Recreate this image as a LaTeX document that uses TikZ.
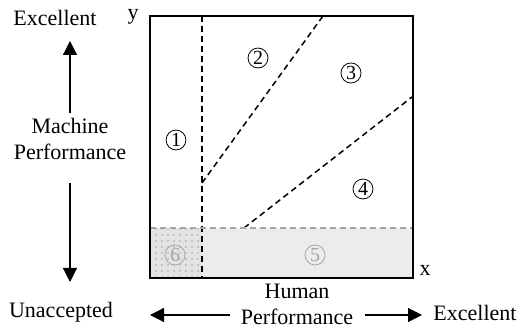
\documentclass[tikz,border=0pt]{standalone}
\usepackage{fontspec}
\setmainfont{Liberation Serif}
\usetikzlibrary{arrows.meta,positioning,patterns}

\begin{document}
\begin{tikzpicture}[x=0.5pt, y=-0.5pt, >=Stealth,
   label/.style={font=\fontsize{11}{13}\selectfont, align=center, inner sep=1pt},
   region/.style={circle, draw, thin, inner sep=0.6pt, minimum size=8.5pt, font=\fontsize{10}{10}\selectfont},
   faint/.style={region, draw=gray!70, text=gray!70},
   border/.style={line width=0.8pt},
   split/.style={dashed, line width=0.75pt, dash pattern=on 3pt off 2pt},
   axis/.style={line width=0.6pt, -{Triangle[length=7pt, width=7pt]}}]
   \useasboundingbox (0,0) rectangle (521,331);

   % shaded strip and the corner cell
   \fill[gray!15] (150,228) rectangle (413,278);
   \fill[gray!22] (150,228) rectangle (202,278);
   \fill[pattern=dots, pattern color=gray!60] (150,228) rectangle (202,278);

   % dividing lines
   \coordinate (vtop) at (202,16);
   \coordinate (vbot) at (202,278);
   \coordinate (kink) at (202,183);
   \coordinate (ktop) at (323,16);
   \coordinate (hlft) at (150,228);
   \coordinate (hrgt) at (413,228);
   \coordinate (dlow) at (244,228);
   \coordinate (dupp) at (412,97);
   \draw[split] (vtop) -- (vbot);
   \draw[split] (kink) -- (ktop);
   \draw[split] (dlow) -- (dupp);
   \draw[split, gray!70] (hlft) -- (hrgt);

   \draw[border] (150,16) rectangle (413,278);

   % regions
   \node (r1) at (176,140) [region] {1};
   \node (r2) at (258,58) [region] {2};
   \node (r3) at (351,73) [region] {3};
   \node (r4) at (363,189) [region] {4};
   \node (r5) at (315,255) [faint] {5};
   \node (r6) at (175,255) [faint] {6};

   % axis names
   \node (yname) at (133,17) [label] {y};
   \node (xname) at (425,270) [label] {x};
   \node (mtop) at (55,18) [label] {Excellent};
   \node (mbot) at (61,312) [label] {Unaccepted};
   \node (machine) at (70,139) [label] {Machine\\Performance};
   \node (human) at (297,304) [label] {Human\\Performance};
   \node (hright) at (475,313) [label] {Excellent};

   \coordinate (uptip) at (70,41);
   \coordinate (upend) at (70,113);
   \coordinate (downtip) at (70,282);
   \coordinate (downend) at (70,183);
   \coordinate (lefttip) at (150,315);
   \coordinate (leftend) at (230,315);
   \coordinate (righttip) at (422,315);
   \coordinate (rightend) at (365,315);
   \draw[axis] (upend) -- (uptip);
   \draw[axis] (downend) -- (downtip);
   \draw[axis] (leftend) -- (lefttip);
   \draw[axis] (rightend) -- (righttip);
\end{tikzpicture}
\end{document}
